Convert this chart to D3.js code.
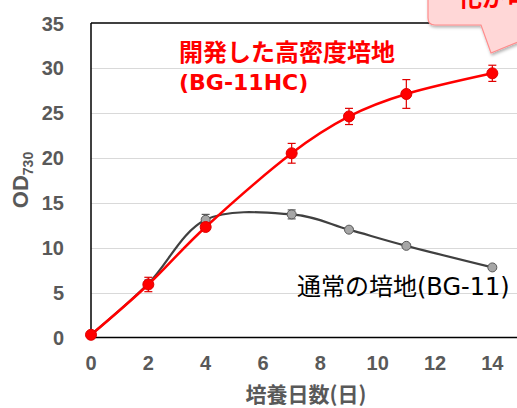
<!DOCTYPE html>
<html>
<head>
<meta charset="utf-8">
<script src="https://cdn.jsdelivr.net/npm/d3@7"></script>
<style>
  body { margin: 0; background: #fff; }
  svg { display: block; }
</style>
</head>
<body>
<div class="chartDiv"></div>
<script>
'use strict';

// culture days
var days = [0, 2, 4, 7, 9, 11, 14];

// BG-11HC (high density medium)
var hcMean = [0.3, 5.9, 12.3, 20.5, 24.6, 27.1, 29.4];
var hcErr  = [0.1, 0.8, 0.4, 1.1, 0.9, 1.6, 0.9];

// BG-11 (normal medium)
var stdMean = [0.3, 6.0, 13.1, 13.7, 12.0, 10.2, 7.8];
var stdErr  = [0.1, 0.4, 0.6, 0.5, 0.2, 0.2, 0.2];

var xTicks = [0, 2, 4, 6, 8, 10, 12, 14];
var yTicks = [0, 5, 10, 15, 20, 25, 30, 35];

var hcLabel = ['開発した高密度培地', '(BG-11HC)'];
var stdLabel = '通常の培地(BG-11)';
var xTitle = '培養日数(日)';

var W = 517, H = 408;
var margin = { top: 23, left: 91, bottom: 71 };

var svg = d3.select('.chartDiv').append('svg')
    .attr('width', W)
    .attr('height', H);

var x = d3.scaleLinear().domain([0, 15]).range([margin.left, margin.left + 430]);
var y = d3.scaleLinear().domain([0, 35]).range([H - margin.bottom + 0.5, margin.top]);

var tickFont = '"Liberation Sans", Arial, sans-serif';
var jpFont = '"DejaVu Sans", "Noto Sans CJK JP", sans-serif';

// gridlines
svg.append('g').selectAll('line')
  .data(yTicks.filter(function(d){ return d > 0 && d < 35; }))
  .enter().append('line')
    .attr('x1', x(0)).attr('x2', W)
    .attr('y1', function(d){ return Math.round(y(d)) + 0.5; })
    .attr('y2', function(d){ return Math.round(y(d)) + 0.5; })
    .attr('stroke', '#d9d9d9')
    .attr('stroke-width', 1.2);

// frame
svg.append('line')
  .attr('x1', x(0)).attr('x2', W)
  .attr('y1', y(35)).attr('y2', y(35))
  .attr('stroke', '#000').attr('stroke-width', 1.5);
svg.append('line')
  .attr('x1', x(0)).attr('x2', W)
  .attr('y1', y(0)).attr('y2', y(0))
  .attr('stroke', '#000').attr('stroke-width', 1.5);
svg.append('line')
  .attr('x1', x(0)).attr('x2', x(0))
  .attr('y1', y(35)).attr('y2', y(0))
  .attr('stroke', '#000').attr('stroke-width', 1.5);

// y tick labels
svg.append('g').selectAll('text')
  .data(yTicks)
  .enter().append('text')
    .attr('x', 64)
    .attr('y', function(d){ return y(d) + 7.5; })
    .attr('text-anchor', 'end')
    .attr('font-family', tickFont)
    .attr('font-weight', 'bold')
    .attr('font-size', 20)
    .attr('fill', '#595959')
    .text(function(d){ return d; });

// x tick labels
svg.append('g').selectAll('text')
  .data(xTicks)
  .enter().append('text')
    .attr('x', function(d){ return x(d); })
    .attr('y', 370)
    .attr('text-anchor', 'middle')
    .attr('font-family', tickFont)
    .attr('font-weight', 'bold')
    .attr('font-size', 20)
    .attr('fill', '#595959')
    .text(function(d){ return d; });

// axis titles
svg.append('text')
  .attr('x', 306).attr('y', 402)
  .attr('text-anchor', 'middle')
  .attr('font-family', '"Noto Sans CJK JP", sans-serif')
  .attr('font-weight', 'bold')
  .attr('font-size', 21)
  .attr('fill', '#595959')
  .text(xTitle);

var yt = svg.append('text')
  .attr('transform', 'translate(28,180) rotate(-90)')
  .attr('text-anchor', 'middle')
  .attr('font-family', tickFont)
  .attr('font-weight', 'bold')
  .attr('font-size', 22)
  .attr('fill', '#595959');
yt.append('tspan').text('OD');
yt.append('tspan').attr('font-size', 14).attr('dy', 5).text('730');

// series
var line = d3.line()
  .x(function(d){ return x(d[0]); })
  .y(function(d){ return y(d[1]); })
  .curve(d3.curveCatmullRom.alpha(0));

function series(mean, err, col, markFill, markStroke, r, lw) {
  var pts = days.map(function(d, i){ return [d, mean[i], err[i]]; });
  var g = svg.append('g');

  g.append('path')
    .datum(pts)
    .attr('d', line)
    .attr('fill', 'none')
    .attr('stroke', col)
    .attr('stroke-width', lw);

  var eb = g.selectAll('.err')
    .data(pts)
    .enter().append('g');
  eb.append('line')
    .attr('x1', function(d){ return x(d[0]); })
    .attr('x2', function(d){ return x(d[0]); })
    .attr('y1', function(d){ return y(d[1] - d[2]); })
    .attr('y2', function(d){ return y(d[1] + d[2]); })
    .attr('stroke', markStroke).attr('stroke-width', 1.2);
  [-1, 1].forEach(function(s){
    eb.append('line')
      .attr('x1', function(d){ return x(d[0]) - 4; })
      .attr('x2', function(d){ return x(d[0]) + 4; })
      .attr('y1', function(d){ return y(d[1] + s * d[2]); })
      .attr('y2', function(d){ return y(d[1] + s * d[2]); })
      .attr('stroke', markStroke).attr('stroke-width', 1.2);
  });

  g.selectAll('.mark')
    .data(pts)
    .enter().append('circle')
      .attr('class', 'mark')
      .attr('cx', function(d){ return x(d[0]); })
      .attr('cy', function(d){ return y(d[1]); })
      .attr('r', r)
      .attr('fill', markFill)
      .attr('stroke', markStroke)
      .attr('stroke-width', 1);
}

series(stdMean, stdErr, '#404040', '#a6a6a6', '#595959', 4.5, 2.2);
series(hcMean, hcErr, '#ff0000', '#ff0000', '#e00000', 5.5, 2.5);

// labels
svg.append('text')
  .attr('x', 179).attr('y', 61)
  .attr('font-family', jpFont)
  .attr('font-weight', 'bold')
  .attr('font-size', 24)
  .attr('fill', '#ff0000')
  .text(hcLabel[0]);
svg.append('text')
  .attr('x', 179).attr('y', 90)
  .attr('font-family', jpFont)
  .attr('font-weight', 'bold')
  .attr('font-size', 22)
  .attr('fill', '#ff0000')
  .text(hcLabel[1]);

svg.append('text')
  .attr('x', 297).attr('y', 295)
  .attr('font-family', jpFont)
  .attr('font-size', 24)
  .attr('fill', '#000')
  .text(stdLabel);

// callout (cropped at top right, as in the source picture)
var defs = svg.append('defs');
var f = defs.append('filter').attr('id', 'shadow')
  .attr('x', '-20%').attr('y', '-20%').attr('width', '140%').attr('height', '160%');
f.append('feDropShadow')
  .attr('dx', 1).attr('dy', 2).attr('stdDeviation', 1.5)
  .attr('flood-color', '#000').attr('flood-opacity', 0.3);

svg.append('path')
  .attr('d', 'M428,-10 L428,18 Q428,25 435,25 L481,25 L491,53 L540,33 L540,-10 Z')
  .attr('fill', '#ffd7d7')
  .attr('stroke', '#ff8c8c')
  .attr('stroke-width', 1.2)
  .attr('filter', 'url(#shadow)');

svg.append('text')
  .attr('x', 458).attr('y', 6)
  .attr('font-family', jpFont)
  .attr('font-weight', 'bold')
  .attr('font-size', 24)
  .attr('fill', '#ff0000')
  .text('化が可');
</script>
</body>
</html>
